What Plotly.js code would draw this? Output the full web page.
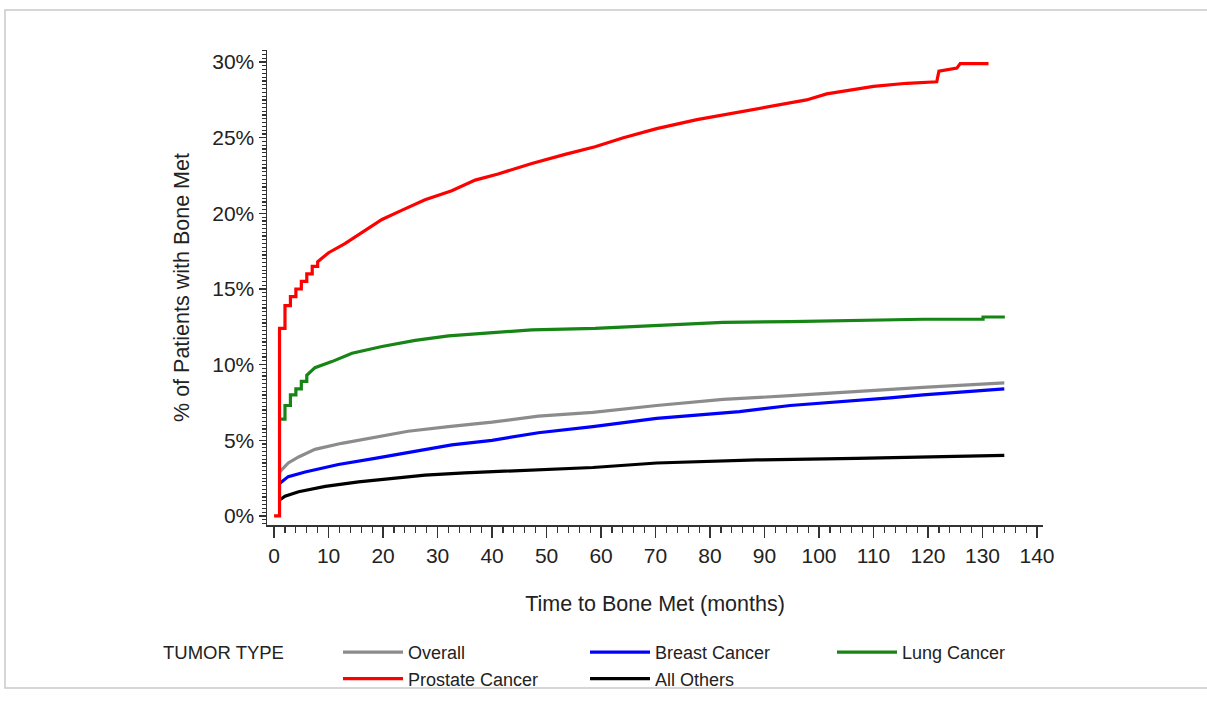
<!DOCTYPE html>
<html><head><meta charset="utf-8">
<script src="https://cdn.plot.ly/plotly-3.0.1.min.js"></script>
<style>html,body{margin:0;padding:0;background:#fff}#chart{width:1207px;height:716px}</style>
</head><body><div id="chart"></div>
<script>
// Time (months) and cumulative % of patients with bone metastasis
const overallT = [1, 2.6, 4.5, 7.5, 12.4, 18.5, 24.6, 32, 40, 48.5, 58.5, 70.2, 82.4, 94.7, 106.9, 119.1, 134];
const overallV = [2.9, 3.5, 3.9, 4.4, 4.8, 5.2, 5.6, 5.9, 6.2, 6.6, 6.85, 7.3, 7.7, 7.95, 8.25, 8.5, 8.8];

const breastT = [1, 2.6, 5.7, 11.8, 18.5, 25.9, 32.6, 40, 48.5, 58.5, 70.2, 85.4, 94.7, 113, 119.1, 134];
const breastV = [2.15, 2.6, 2.9, 3.4, 3.8, 4.25, 4.7, 5.0, 5.5, 5.9, 6.45, 6.9, 7.3, 7.8, 8.0, 8.4];

const lungT = [1, 2, 2, 3, 3, 4, 4, 5, 5, 6, 6, 7.5, 10.6, 14.3, 19.8, 25.9, 32, 40, 47.3, 58.9, 70.2, 82.4, 94.7, 106.9, 119.1, 130.1, 130.1, 134.1];
const lungV = [6.4, 6.4, 7.3, 7.3, 8.0, 8.0, 8.4, 8.4, 8.9, 8.9, 9.3, 9.8, 10.2, 10.75, 11.2, 11.6, 11.9, 12.1, 12.3, 12.4, 12.6, 12.8, 12.85, 12.95, 13.0, 13.0, 13.15, 13.15];

const prostateT = [0, 1, 1, 2, 2, 3, 3, 4, 4, 5, 5, 6, 6, 7, 7, 8, 8, 10, 13, 16.7, 19.8, 23.4, 27.7, 32.6, 36.9, 41.1, 47.3, 53.4, 58.9, 64.1, 70.2, 77.6, 83.7, 88.6, 94.7, 97.7, 101.4, 106.9, 110, 116.1, 121.6, 122, 125.3, 125.9, 131.1];
const prostateV = [0, 0, 12.4, 12.4, 13.9, 13.9, 14.5, 14.5, 15.0, 15.0, 15.5, 15.5, 16.0, 16.0, 16.5, 16.5, 16.8, 17.4, 18.0, 18.9, 19.6, 20.2, 20.9, 21.5, 22.2, 22.6, 23.3, 23.9, 24.4, 25.0, 25.6, 26.2, 26.6, 26.9, 27.3, 27.5, 27.9, 28.2, 28.4, 28.6, 28.7, 29.4, 29.6, 29.9, 29.9];

const othersT = [1, 2, 4.5, 9.4, 15.5, 21.6, 27.7, 35, 44.2, 58.5, 70.2, 88.6, 106.9, 119.1, 134];
const othersV = [1.05, 1.3, 1.6, 1.95, 2.25, 2.5, 2.7, 2.85, 3.0, 3.2, 3.5, 3.7, 3.8, 3.9, 4.0];

const yTickVals = [0, 5, 10, 15, 20, 25, 30];
const yTickText = ['0%', '5%', '10%', '15%', '20%', '25%', '30%'];
const xTickVals = [0, 10, 20, 30, 40, 50, 60, 70, 80, 90, 100, 110, 120, 130, 140];

const FONT = 'Liberation Sans, Arial, sans-serif';
const W = 3.2;

function tr(name, x, y, color, rank) {
  return {type: 'scatter', mode: 'lines', name: name, x: x, y: y,
          line: {color: color, width: W, shape: 'linear'}, legendrank: rank, hoverinfo: 'skip'};
}

const data = [
  tr('Overall', overallT, overallV, '#8c8c8c', 1),
  tr('Breast Cancer', breastT, breastV, '#0000ff', 2),
  tr('Lung Cancer', lungT, lungV, '#168516', 3),
  tr('All Others', othersT, othersV, '#000000', 5),
  tr('Prostate Cancer', prostateT, prostateV, '#ff0000', 4)
];

const L = 267, R = 1043, T = 50, B = 525;
const px = p => (p - L) / (R - L);
const py = p => (B - p) / (B - T);

const layout = {
  width: 1207, height: 716,
  margin: {l: L, r: 1207 - R, t: T, b: 716 - B, autoexpand: false},
  paper_bgcolor: '#ffffff', plot_bgcolor: '#ffffff',
  font: {family: FONT, color: '#222'},
  showlegend: true,
  legend: {orientation: 'h', x: px(338), y: py(634), xanchor: 'left', yanchor: 'top',
           entrywidth: 172, entrywidthmode: 'pixels', itemwidth: 60, tracegroupgap: 0,
           font: {family: FONT, size: 18, color: '#222'}, bgcolor: 'rgba(0,0,0,0)', traceorder: 'normal'},
  xaxis: {
    range: [-1.3, 141.1], tickvals: xTickVals, ticks: 'outside', ticklen: 11, tickwidth: 1.5,
    tickcolor: '#333', showline: true, linecolor: '#333', linewidth: 1.5, showgrid: false, zeroline: false,
    tickfont: {family: FONT, size: 21, color: '#222'},
    minor: {dtick: 2, tick0: 0, ticks: 'outside', ticklen: 6, tickwidth: 1.2, tickcolor: '#333', showgrid: false},
    title: {text: 'Time to Bone Met (months)', font: {family: FONT, size: 21.5, color: '#222'}, standoff: 30},
    fixedrange: true
  },
  yaxis: {
    range: [-0.6, 30.8], tickvals: yTickVals, ticktext: yTickText, ticks: 'outside', ticklen: 7, tickwidth: 1.5,
    tickcolor: '#333', showline: true, linecolor: '#333', linewidth: 1.5, showgrid: false, zeroline: false,
    tickfont: {family: FONT, size: 21, color: '#222'},
    minor: {dtick: 0.25, tick0: 0, ticks: 'outside', ticklen: 4, tickwidth: 1.2, tickcolor: '#333', showgrid: false},
    title: {text: '% of Patients with Bone Met', font: {family: FONT, size: 21.5, color: '#222'}, standoff: 16},
    fixedrange: true
  },
  shapes: [
    {type: 'rect', xref: 'paper', yref: 'paper', x0: px(5), x1: px(1212), y0: py(688), y1: py(10),
     line: {color: '#c9c9c9', width: 1.5}, fillcolor: 'rgba(0,0,0,0)', layer: 'below'}
  ],
  annotations: [
    {text: 'TUMOR TYPE', xref: 'paper', yref: 'paper', x: px(161), y: py(652), xanchor: 'left', yanchor: 'middle',
     showarrow: false, font: {family: FONT, size: 18.5, color: '#222'}}
  ]
};

Plotly.newPlot('chart', data, layout, {displayModeBar: false, staticPlot: true});
</script>
</body></html>
